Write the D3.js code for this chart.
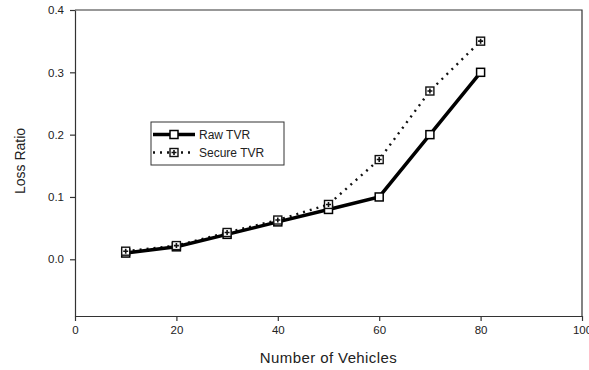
<!DOCTYPE html>
<html>
<head>
<meta charset="utf-8">
<script src="https://cdn.jsdelivr.net/npm/d3@7"></script>
<style>
  body { margin: 0; background: #fff; }
  text { font-family: "Liberation Sans", Arial, sans-serif; fill: #222; }
</style>
</head>
<body>
<div id="chart"></div>
<script>
var vehicles = [10, 20, 30, 40, 50, 60, 70, 80];
var rawTVR = [0.010, 0.020, 0.040, 0.060, 0.080, 0.100, 0.200, 0.300];
var secureTVR = [0.013, 0.022, 0.043, 0.063, 0.088, 0.160, 0.270, 0.350];
var xTicks = [0, 20, 40, 60, 80, 100];
var yTicks = [0.0, 0.1, 0.2, 0.3, 0.4];

var margin = {top: 10, right: 7, bottom: 54, left: 75},
    width = 589 - margin.left - margin.right,
    height = 370 - margin.top - margin.bottom;

var svg = d3.select("#chart")
  .append("svg")
    .attr("width", 589)
    .attr("height", 370)
  .append("g")
    .attr("transform", "translate(" + margin.left + "," + margin.top + ")");

var x = d3.scaleLinear().domain([0, 100]).range([0, width]);
var y = d3.scaleLinear().domain([-0.091, 0.4]).range([height, 0]);

// frame (top and right)
svg.append("path")
  .attr("d", "M0,0H" + width + "V" + height)
  .attr("fill", "none")
  .attr("stroke", "#333")
  .attr("stroke-width", 1.2);

var xAxis = svg.append("g")
  .attr("transform", "translate(0," + height + ")")
  .call(d3.axisBottom(x).tickValues(xTicks).tickSize(5).tickSizeOuter(0).tickPadding(5));

var yAxis = svg.append("g")
  .call(d3.axisLeft(y).tickValues(yTicks).tickSize(5).tickSizeOuter(0).tickPadding(6)
    .tickFormat(d3.format(".1f")));

[xAxis, yAxis].forEach(function(a) {
  a.select(".domain").attr("stroke", "#333").attr("stroke-width", 1.2);
  a.selectAll(".tick line").attr("stroke", "#333").attr("stroke-width", 1.2);
  a.selectAll(".tick text")
    .style("font-family", "'Liberation Sans', Arial, sans-serif")
    .style("font-size", "11.5px")
    .attr("fill", "#333");
});

svg.append("text")                              // x axis label
  .attr("text-anchor", "middle")
  .attr("x", x(50))
  .attr("y", height + 47)
  .style("font-size", "15px")
  .style("letter-spacing", "0.4px")
  .text("Number of Vehicles");

svg.append("text")                              // y axis label
  .attr("text-anchor", "middle")
  .attr("transform", "rotate(-90)")
  .attr("x", -(161 - margin.top))
  .attr("y", -50)
  .style("font-size", "14px")
  .text("Loss Ratio");

var raw = vehicles.map(function(v, i) { return {v: v, r: rawTVR[i]}; });
var sec = vehicles.map(function(v, i) { return {v: v, r: secureTVR[i]}; });

var line = d3.line()
  .x(function(d) { return x(d.v); })
  .y(function(d) { return y(d.r); });

// secure line (dotted)
svg.append("path")
  .datum(sec)
  .attr("fill", "none")
  .attr("stroke", "#111")
  .attr("stroke-width", 2.4)
  .attr("stroke-dasharray", "2,5")
  .attr("d", line);

// raw line (thick solid)
svg.append("path")
  .datum(raw)
  .attr("fill", "none")
  .attr("stroke", "#000")
  .attr("stroke-width", 3.5)
  .attr("d", line);

function rawMarker(g) {
  g.append("rect")
    .attr("x", -4).attr("y", -4).attr("width", 8).attr("height", 8)
    .attr("fill", "#fff").attr("stroke", "#000").attr("stroke-width", 1.5);
}
function secMarker(g) {
  g.append("rect")
    .attr("x", -4).attr("y", -4).attr("width", 8).attr("height", 8)
    .attr("fill", "#fff").attr("stroke", "#111").attr("stroke-width", 1.4);
  g.append("path")
    .attr("d", "M-2.5,0H2.5M0,-2.5V2.5")
    .attr("stroke", "#111").attr("stroke-width", 1.6);
}

svg.selectAll(".rawpt")
  .data(raw)
  .enter().append("g")
  .attr("class", "rawpt")
  .attr("transform", function(d) { return "translate(" + x(d.v) + "," + y(d.r) + ")"; })
  .each(function() { rawMarker(d3.select(this)); });

svg.selectAll(".secpt")
  .data(sec)
  .enter().append("g")
  .attr("class", "secpt")
  .attr("transform", function(d) { return "translate(" + x(d.v) + "," + y(d.r) + ")"; })
  .each(function() { secMarker(d3.select(this)); });

// legend
var legend = svg.append("g").attr("transform", "translate(" + (151 - margin.left) + "," + (122 - margin.top) + ")");
legend.append("rect")
  .attr("width", 133).attr("height", 43)
  .attr("fill", "#fff").attr("stroke", "#333").attr("stroke-width", 1);

legend.append("line")
  .attr("x1", 2).attr("x2", 44).attr("y1", 12.5).attr("y2", 12.5)
  .attr("stroke", "#000").attr("stroke-width", 3.5);
rawMarker(legend.append("g").attr("transform", "translate(23,12.5)"));
legend.append("text").attr("x", 48).attr("y", 17).style("font-size", "12px").text("Raw TVR");

legend.append("line")
  .attr("x1", 2).attr("x2", 44).attr("y1", 30.5).attr("y2", 30.5)
  .attr("stroke", "#111").attr("stroke-width", 2.4).attr("stroke-dasharray", "2,5");
secMarker(legend.append("g").attr("transform", "translate(23,30.5)"));
legend.append("text").attr("x", 48).attr("y", 35).style("font-size", "12px").text("Secure TVR");
</script>
</body>
</html>
